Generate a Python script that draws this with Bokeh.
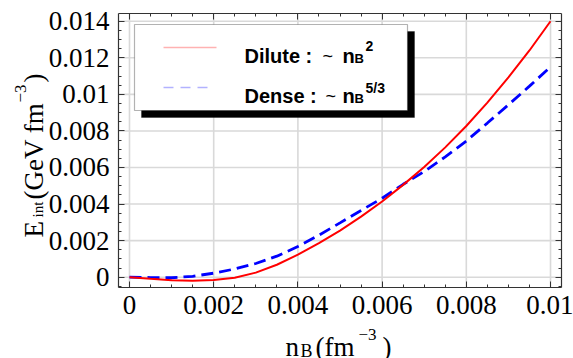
from math import pi
from bokeh.plotting import figure
from bokeh.models import (Range1d, LinearAxis, Label, BoxAnnotation, FixedTicker,
                          PolyAnnotation, CustomJSTickFormatter)
from bokeh.embed import file_html
from bokeh.resources import INLINE

# ---------------- data ----------------
n_B = [0.0, 0.0005, 0.001, 0.0015, 0.002, 0.0025, 0.003, 0.0035, 0.004, 0.0045,
       0.005, 0.0055, 0.006, 0.0065, 0.007, 0.0075, 0.008, 0.0085, 0.009, 0.0095, 0.01]
dilute = [0.0, -0.00009, -0.00016, -0.00019, -0.00015, -0.00003, 0.00025, 0.00068,
          0.00123, 0.00186, 0.00255, 0.00331, 0.00414, 0.00505, 0.00603, 0.0071,
          0.00827, 0.00955, 0.01093, 0.0124, 0.0140]
dense = [0.0, -0.00002, -0.00003, 0.00005, 0.00022, 0.00045, 0.00075, 0.00115,
         0.00168, 0.0023, 0.00297, 0.00365, 0.00432, 0.00508, 0.00578, 0.00658,
         0.00745, 0.00843, 0.00943, 0.01045, 0.0115]

x_ticks = [0.0, 0.002, 0.004, 0.006, 0.008, 0.01]
x_tick_labels = ["0", "0.002", "0.004", "0.006", "0.008", "0.01"]
y_ticks = [0.0, 0.002, 0.004, 0.006, 0.008, 0.01, 0.012, 0.014]
y_tick_labels = ["0", "0.002", "0.004", "0.006", "0.008", "0.01", "0.012", "0.014"]
minor_step = 0.0005

legend_dilute = "Dilute :"
legend_dense = "Dense :"

# plotting box (axis extents) and the canvas-wide view around it
box_x = (-0.000261, 0.01026)
box_y = (-0.000563, 0.01442)
view_x = (-0.003064, 0.010546)
view_y = (-0.004446, 0.015133)

serif = "Liberation Serif"
sans = "Liberation Sans"
axis_col = "#333333"

# the frame fills the whole canvas; axes sit at fixed locations around the box
p = figure(width=573, height=358, output_backend="svg", toolbar_location=None,
           title=None, x_range=Range1d(*view_x), y_range=Range1d(*view_y),
           min_border=0, x_axis_location=None, y_axis_location=None)
p.background_fill_color = "white"
p.border_fill_color = "white"
p.outline_line_color = None
p.grid.visible = False

x_minor = [i * minor_step for i in range(0, 21)]
y_minor = [i * minor_step for i in range(-1, 29)]

# grid lines at the major ticks, limited to the box
p.segment(x0=x_ticks, x1=x_ticks, y0=[box_y[0]] * len(x_ticks),
          y1=[box_y[1]] * len(x_ticks), line_color="#d9d9d9", line_width=1.6)
p.segment(x0=[box_x[0]] * len(y_ticks), x1=[box_x[1]] * len(y_ticks),
          y0=y_ticks, y1=y_ticks, line_color="#d9d9d9", line_width=1.6)

# curves
p.line(n_B, dense, line_color="#0000ff", line_width=2.8, line_dash="12 6")
p.line(n_B, dilute, line_color="#ff0000", line_width=2)


def make_axis(ticks, minor, bounds, loc, labels=None):
    ax = LinearAxis(fixed_location=loc, bounds=bounds)
    ax.ticker = FixedTicker(ticks=ticks, minor_ticks=minor)
    ax.axis_line_color = axis_col
    ax.axis_line_width = 1.2
    ax.major_tick_line_color = axis_col
    ax.minor_tick_line_color = axis_col
    ax.major_tick_in = 6
    ax.major_tick_out = 0
    ax.minor_tick_in = 3
    ax.minor_tick_out = 0
    if labels is None:
        ax.formatter = CustomJSTickFormatter(code="return ''")
        ax.major_label_text_font_size = "0px"
        ax.major_label_standoff = 0
    else:
        ax.major_label_overrides = dict(zip(ticks, labels))
        ax.major_label_text_font = serif
        ax.major_label_text_font_size = "27px"
        ax.major_label_text_color = "black"
        ax.major_label_standoff = 9
    return ax


p.add_layout(make_axis(x_ticks, x_minor, box_x, box_y[0], x_tick_labels), "below")
p.add_layout(make_axis(y_ticks, y_minor, box_y, box_x[0], y_tick_labels), "left")
p.add_layout(make_axis(x_ticks, x_minor, box_x, box_y[1]), "above")
p.add_layout(make_axis(y_ticks, y_minor, box_y, box_x[1]), "right")


def lab(text, x, y, size, angle=0.0, font=serif, style="normal"):
    p.add_layout(Label(x=x, y=y, x_units="screen", y_units="screen", text=text,
                       text_font=font, text_font_size=size, text_font_style=style,
                       text_color="black", angle=angle,
                       text_align="left", text_baseline="alphabetic"))


# legend with shadow (screen units from the canvas' bottom-left corner)
def box(l, r, b, t, fill, lw):
    return BoxAnnotation(left=l, right=r, bottom=b, top=t,
                         left_units="screen", right_units="screen",
                         bottom_units="screen", top_units="screen",
                         fill_color=fill, fill_alpha=1.0, line_color="black",
                         line_width=lw)


p.add_layout(box(141, 414, 241, 327, "black", 1))
p.add_layout(box(134, 407, 248, 334, "white", 1.2))
p.add_layout(PolyAnnotation(xs=[163, 216], ys=[311, 311], xs_units="screen",
                            ys_units="screen", line_color="#ff0000", line_width=1.4,
                            fill_alpha=0))
p.add_layout(PolyAnnotation(xs=[163, 212], ys=[271, 271], xs_units="screen",
                            ys_units="screen", line_color="#0000ff", line_width=1.4,
                            line_dash="10 7", fill_alpha=0))

lab(legend_dilute, 244, 303, "20px", font=sans, style="bold")
lab("~", 322, 303, "18px", font=sans)
lab("n", 342, 303, "20px", font=sans, style="bold")
lab("B", 354, 300, "13px", font=sans, style="bold")
lab("2", 365, 313, "14px", font=sans, style="bold")

lab(legend_dense, 244, 263, "20px", font=sans, style="bold")
lab("~", 325, 263, "18px", font=sans)
lab("n", 342, 263, "20px", font=sans, style="bold")
lab("B", 354, 260, "13px", font=sans, style="bold")
lab("5/3", 365, 271, "14px", font=sans, style="bold")

# y axis label: E_int (GeV fm^-3)
lab("E", 33, 121, "27px", angle=pi / 2)
lab("int", 37, 141, "15px", angle=pi / 2)
lab("(GeV fm", 33, 159, "27px", angle=pi / 2)
lab("\u22123", 20, 256, "17px", angle=pi / 2)
lab(")", 33, 276, "27px", angle=pi / 2)

# x axis label: n_B (fm^-3)
lab("n", 285, 12, "27px")
lab("B", 300, 8, "18px")
lab("(fm", 315, 12, "27px")
lab("\u22123", 358, 24, "17px")
lab(")", 382, 12, "27px")

open("out.html", "w").write(file_html(p, INLINE))
